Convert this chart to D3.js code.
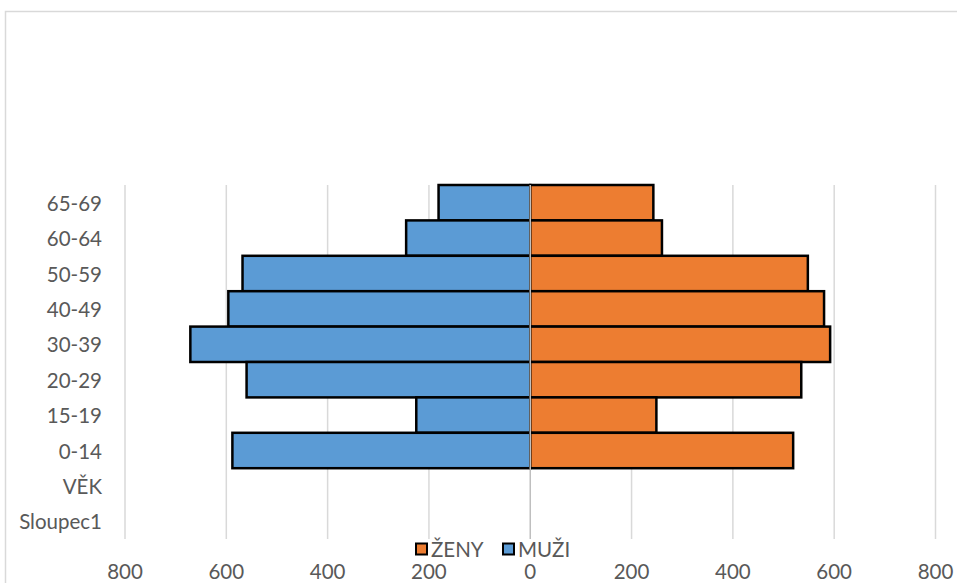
<!DOCTYPE html>
<html>
<head>
<meta charset="utf-8">
<script src="https://cdn.jsdelivr.net/npm/d3@7"></script>
<style>
    body { margin: 0; background: #fff; }
    svg { display: block; font-family: "Lato", "Open Sans", sans-serif; }
</style>
</head>
<body>
<svg id="chart" width="957" height="583"></svg>
<script>
// age groups, top to bottom as in the chart
var categories = ["65-69", "60-64", "50-59", "40-49", "30-39", "20-29", "15-19", "0-14", "VĚK", "Sloupec1"];
var zeny = [243, 260, 548, 580, 592, 535, 249, 519, null, null];
var muzi = [181, 245, 568, 596, 671, 560, 225, 588, null, null];
var xTicks = [-800, -600, -400, -200, 0, 200, 400, 600, 800];

var svg = d3.select("#chart");
var fontSize = "20.5px";

// chart frame
svg.append("rect")
    .attr("x", 5.5).attr("y", 11.5)
    .attr("width", 1000).attr("height", 700)
    .style("fill", "#fff")
    .style("stroke", "#d9d9d9")
    .style("stroke-width", 1.5);

var x = d3.scaleLinear()
    .domain([-800, 800])
    .range([125, 935.5]);

var y = d3.scaleBand()
    .domain(categories)
    .range([185, 539])
    .padding(0);

// vertical grid
svg.append("g")
    .selectAll("line")
    .data(xTicks.filter(function(d) { return d !== 0; }))
    .join("line")
    .attr("x1", function(d) { return x(d); })
    .attr("x2", function(d) { return x(d); })
    .attr("y1", y.range()[0])
    .attr("y2", y.range()[1])
    .style("stroke", "#d9d9d9")
    .style("stroke-width", 1.5);

var rows = categories.map(function(c, i) {
    return {cat: c, zeny: zeny[i], muzi: muzi[i]};
}).filter(function(d) { return d.zeny !== null; });

// MUŽI - left side
svg.append("g")
    .selectAll("rect")
    .data(rows)
    .join("rect")
    .attr("x", function(d) { return x(-d.muzi); })
    .attr("y", function(d) { return y(d.cat); })
    .attr("width", function(d) { return x(0) - x(-d.muzi); })
    .attr("height", y.bandwidth())
    .style("fill", "#5b9bd5")
    .style("stroke", "#000")
    .style("stroke-width", 2.5);

// ŽENY - right side
svg.append("g")
    .selectAll("rect")
    .data(rows)
    .join("rect")
    .attr("x", x(0))
    .attr("y", function(d) { return y(d.cat); })
    .attr("width", function(d) { return x(d.zeny) - x(0); })
    .attr("height", y.bandwidth())
    .style("fill", "#ed7d31")
    .style("stroke", "#000")
    .style("stroke-width", 2.5);

// zero axis line
svg.append("line")
    .attr("x1", x(0)).attr("x2", x(0))
    .attr("y1", y.range()[0]).attr("y2", y.range()[1])
    .style("stroke", "#bfbfbf")
    .style("stroke-width", 1.5);

// category labels
svg.append("g")
    .selectAll("text")
    .data(categories)
    .join("text")
    .attr("x", 102)
    .attr("y", function(d) { return y(d) + y.bandwidth() / 2; })
    .attr("text-anchor", "end")
    .attr("dominant-baseline", "central")
    .style("fill", "#595959")
    .style("font-size", fontSize)
    .text(function(d) { return d; });

// x tick labels
svg.append("g")
    .selectAll("text")
    .data(xTicks)
    .join("text")
    .attr("x", function(d) { return x(d); })
    .attr("y", 571)
    .attr("text-anchor", "middle")
    .attr("dominant-baseline", "central")
    .style("fill", "#595959")
    .style("font-size", fontSize)
    .text(function(d) { return Math.abs(d); });

// legend
var legend = [
    {name: "ŽENY", color: "#ed7d31", x: 416},
    {name: "MUŽI", color: "#5b9bd5", x: 503}
];
var lg = svg.append("g")
    .selectAll("g")
    .data(legend)
    .join("g")
    .attr("transform", function(d) { return "translate(" + d.x + ",549)"; });
lg.append("rect")
    .attr("x", 0).attr("y", -5.5)
    .attr("width", 11).attr("height", 11)
    .style("fill", function(d) { return d.color; })
    .style("stroke", "#000")
    .style("stroke-width", 2);
lg.append("text")
    .attr("x", 15)
    .attr("y", 0)
    .attr("dominant-baseline", "central")
    .style("fill", "#595959")
    .style("font-size", fontSize)
    .text(function(d) { return d.name; });
</script>
</body>
</html>
